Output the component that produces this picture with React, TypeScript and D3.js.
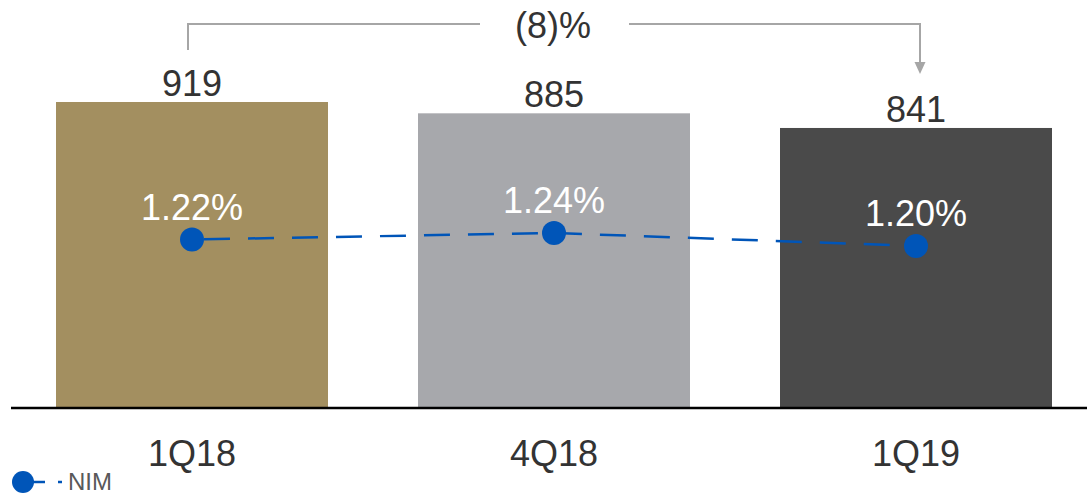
import React from "react";
import * as d3 from "d3";

const categories = ["1Q18", "4Q18", "1Q19"];
const values = [919, 885, 841];
const nim = [1.22, 1.24, 1.2];
const nimLabels = ["1.22%", "1.24%", "1.20%"];
const barColors = ["#A38F60", "#A7A8AC", "#4A4A4A"];
const changeLabel = "(8)%";
const legendLabel = "NIM";

const W = 1087;
const H = 496;
const FONT = "'Liberation Sans', Arial, sans-serif";

export default function App() {
  const x = d3
    .scaleBand<string>()
    .domain(categories)
    .range([56, 1052])
    .paddingInner(90 / 362)
    .paddingOuter(0);
  const baseY = 408;
  const y = d3.scaleLinear().domain([0, 919]).range([baseY, 102]);
  const yN = d3.scaleLinear().domain([1.2, 1.24]).range([246, 233]);
  const bw = x.bandwidth();
  const cx = (c: string) => (x(c) as number) + bw / 2;
  const linePath = d3
    .line<number>()
    .x((_, i) => cx(categories[i]))
    .y((d) => yN(d))(nim) as string;

  const lx = cx(categories[0]) - 4;
  const rx = cx(categories[2]) + 4;
  const topY = 24;

  return (
    <svg width={W} height={H} style={{ position: "absolute", left: 0, top: 0 }} fontFamily={FONT}>
      {categories.map((c, i) => (
        <g key={c}>
          <rect x={x(c)} y={y(values[i])} width={bw} height={baseY - y(values[i])} fill={barColors[i]} />
          <text x={cx(c)} y={y(values[i]) - 6} textAnchor="middle" fontSize={36} fill="#333">
            {values[i]}
          </text>
          <text x={cx(c)} y={466} textAnchor="middle" fontSize={36} fill="#333">
            {c}
          </text>
          <text x={cx(c)} y={yN(nim[i]) - 20} textAnchor="middle" fontSize={36} fill="#fff">
            {nimLabels[i]}
          </text>
        </g>
      ))}
      <line x1={11} x2={W} y1={baseY} y2={baseY} stroke="#000" strokeWidth={2.5} />
      <path d={linePath} fill="none" stroke="#0055B8" strokeWidth={2.5} strokeDasharray="26 18" strokeDashoffset={-12} />
      {nim.map((v, i) => (
        <circle key={i} cx={cx(categories[i])} cy={yN(v)} r={12} fill="#0055B8" />
      ))}
      {/* bracket */}
      <path d={`M${lx},50 L${lx},${topY} L480,${topY}`} fill="none" stroke="#A6A6A6" strokeWidth={2} />
      <path d={`M629,${topY} L${rx},${topY} L${rx},64`} fill="none" stroke="#A6A6A6" strokeWidth={2} />
      <path d={`M${rx - 5.5},62 L${rx + 5.5},62 L${rx},74 Z`} fill="#A6A6A6" />
      <text x={553} y={38} textAnchor="middle" fontSize={36} fill="#333">
        {changeLabel}
      </text>
      {/* legend */}
      <circle cx={23} cy={482} r={11} fill="#0055B8" />
      <line x1={23} x2={45} y1={482} y2={482} stroke="#0055B8" strokeWidth={2.5} />
      <line x1={58} x2={62} y1={482} y2={482} stroke="#0055B8" strokeWidth={2.5} />
      <text x={68} y={490} fontSize={24} fill="#595959">
        {legendLabel}
      </text>
    </svg>
  );
}
